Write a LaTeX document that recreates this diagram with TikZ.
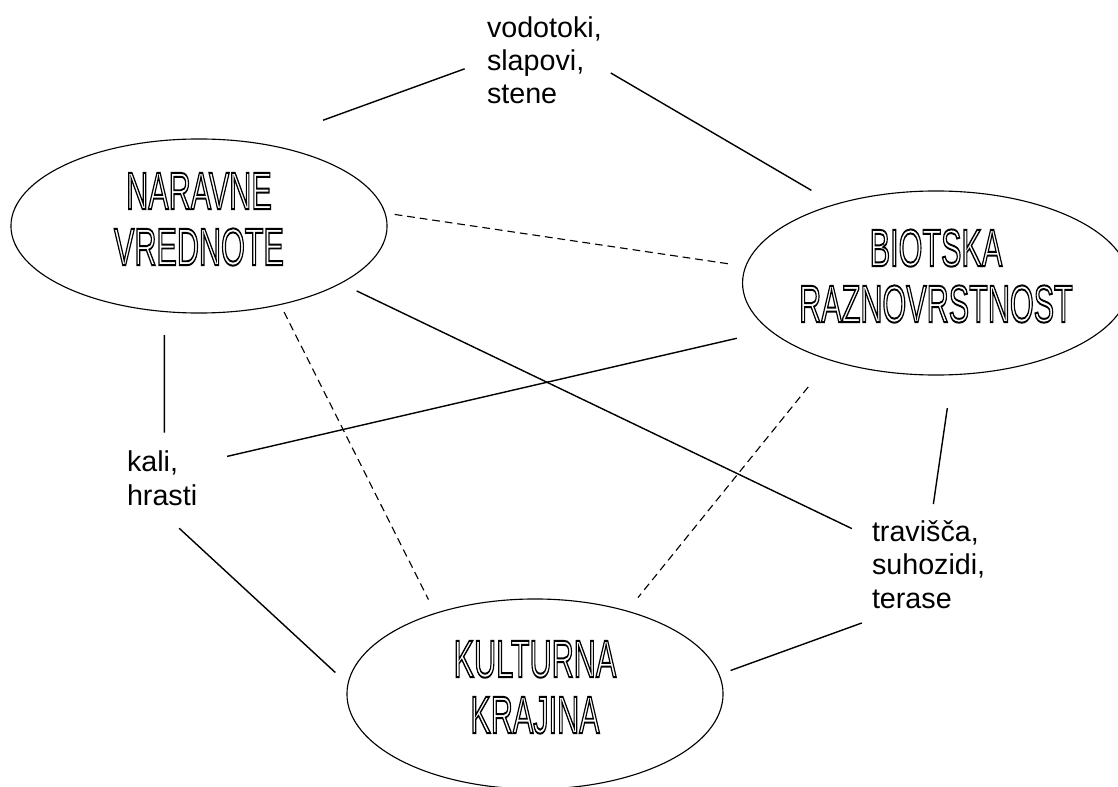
\documentclass[tikz,border=0pt]{standalone}
\usepackage{fontspec}
\setmainfont{Liberation Sans}
\usepackage{graphicx}
\usetikzlibrary{shapes.geometric}

\newcommand{\obrisnapis}[1]{\scalebox{0.58}[1]{\special{pdf:literal direct 1 Tr 1.4 w}\begin{tabular}{@{}c@{}}#1\end{tabular}\special{pdf:literal direct 0 Tr}}}

\begin{document}
\begin{tikzpicture}[x=0.025cm,y=-0.025cm,
  konceptnode/.style={draw,ellipse,line width=0.8pt,inner sep=0pt,outer sep=0pt,
    font=\fontsize{37.5}{39.8}\selectfont},
  primertext/.style={anchor=base west,align=left,inner sep=0pt,outer sep=0pt,
    font=\fontsize{20.4}{23.5}\selectfont},
  povezava/.style={line width=1pt},
  posredno/.style={line width=0.8pt,dash pattern=on 5.5pt off 3.5pt}
]
  \useasboundingbox (0,0) rectangle (1118,787);
  % Naravne vrednote
  \node[konceptnode,minimum width=9.4cm,minimum height=4.35cm] (nv) at (199,226) {\obrisnapis{NARAVNE\\VREDNOTE}\hspace{0.3cm}};
  % Biotska raznovrstnost
  \node[konceptnode,minimum width=9.05cm,minimum height=4.6cm] (br) at (936,283) {\obrisnapis{BIOTSKA\\RAZNOVRSTNOST}};
  % Kulturna krajina
  \node[konceptnode,minimum width=9.4cm,minimum height=4.75cm] (kk) at (535,694) {\obrisnapis{KULTURNA\\KRAJINA}\hspace{0.5cm}};
  % primeri (base = zadnja vrstica)
  \node[primertext] (vod) at (487,104) {vodotoki,\\slapovi,\\stene};
  \node[primertext] (kali) at (127,505) {kali,\\hrasti};
  \node[primertext] (trav) at (872,608) {travišča,\\suhozidi,\\terase};
  % povezave
  \draw[povezava,shorten <=48.5pt,shorten >=16.9pt] (nv.54) -- (vod.west);
  \draw[povezava,shorten <=7.4pt,shorten >=19.8pt] (vod.353) -- (br.142);
  \draw[posredno,shorten <=7pt,shorten >=9.4pt] (nv.4) -- (br.175);
  \draw[povezava,shorten <=16.7pt,shorten >=13.2pt] (nv.248) -- (kali.85);
  \draw[posredno,shorten <=6pt,shorten >=11pt] (nv.316) -- (kk.141);
  \draw[povezava,shorten <=12.6pt,shorten >=15.9pt] (nv.338) -- (trav.155);
  \draw[povezava,shorten <=24.5pt,shorten >=21.9pt] (br.196) -- (kali.23);
  \draw[posredno,shorten <=24.7pt,shorten >=12.4pt] (br.216) -- (kk.42);
  \draw[povezava,shorten <=24pt,shorten >=12.2pt] (br.280) -- (trav.87);
  \draw[povezava,shorten <=24pt,shorten >=12.2pt] (kali.254) -- (kk.177);
  \draw[povezava,shorten <=30.7pt,shorten >=8.7pt] (trav.239) -- (kk.6);
\end{tikzpicture}
\end{document}
